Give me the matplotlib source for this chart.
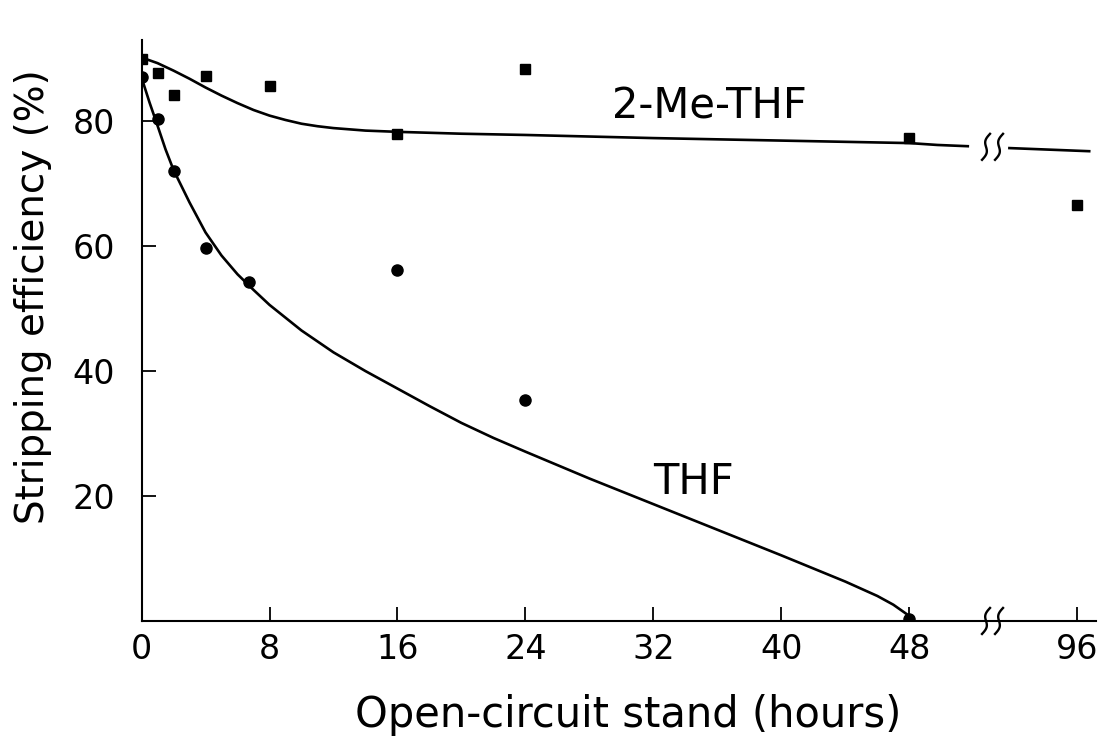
import numpy as np
import matplotlib
matplotlib.use('Agg')
import matplotlib.pyplot as plt

# measured points
me_x = [0, 1, 2, 4, 8, 16, 24, 48, 96]
me_y = [90, 87.7, 84.2, 87.2, 85.6, 78, 88.3, 77.3, 66.6]
thf_x = [0, 1, 2, 4, 6.7, 16, 24, 48]
thf_y = [87, 80.3, 72, 59.7, 54.2, 56.2, 35.4, 0.3]

# fitted curves
me_fit_x = [0, 1, 2, 3, 4, 5, 6, 7, 8, 9, 10, 11, 12, 14, 16, 20, 24, 32, 40, 48, 56, 64.7]
me_fit_y = [90.2, 89.3, 88.1, 86.8, 85.4, 84.1, 82.9, 81.8, 80.9, 80.2, 79.6, 79.2,
            78.9, 78.5, 78.3, 78.0, 77.8, 77.3, 76.9, 76.5, 76.2, 76.0]
me_fit2_x = [76.6, 99.4]
me_fit2_y = [75.7, 75.2]
thf_fit_x = [0, 0.5, 1, 1.5, 2, 3, 4, 5, 6, 7, 8, 10, 12, 14, 16, 18, 20, 22, 24,
             28, 32, 36, 40, 44, 46, 47, 48]
thf_fit_y = [87, 83, 79.3, 75.5, 72.2, 67, 62.2, 58.5, 55.5, 53, 50.6, 46.5, 43, 40,
             37.2, 34.4, 31.7, 29.3, 27.1, 22.8, 18.7, 14.6, 10.5, 6.3, 4.0, 2.6, 0.8]

xticks = [0, 8, 16, 24, 32, 40, 48, 96]
yticks = [20, 40, 60, 80]

# broken axis: everything past 48 h is squeezed
def fwd(x):
    x = np.asarray(x, dtype=float)
    return np.where(x <= 48, x, 48 + (x - 48) * 10.5 / 48)

def inv(x):
    x = np.asarray(x, dtype=float)
    return np.where(x <= 48, x, 48 + (x - 48) * 48 / 10.5)

plt.rcParams['font.family'] = ['DejaVu Sans']

fig = plt.figure(figsize=(11.04, 7.41), dpi=100)
ax = fig.add_axes([0.1282, 0.162, 0.865, 0.784])
ax.set_xscale('function', functions=(fwd, inv))
ax.set_xlim(0, float(inv(59.7)))
ax.set_ylim(0, 93)

lw = 1.9
ax.plot(me_fit_x, me_fit_y, color='black', lw=lw)
ax.plot(me_fit2_x, me_fit2_y, color='black', lw=lw)
ax.plot(thf_fit_x, thf_fit_y, color='black', lw=lw)
ax.plot(me_x, me_y, 's', color='black', ms=7.5)
ax.plot(thf_x, thf_y, 'o', color='black', ms=8)

for s in ['top', 'right']:
    ax.spines[s].set_visible(False)
for s in ['left', 'bottom']:
    ax.spines[s].set_linewidth(1.5)

ax.set_xticks(xticks)
ax.set_xticklabels([str(t) for t in xticks])
ax.set_yticks(yticks)
ax.set_yticklabels([str(t) for t in yticks])
ax.tick_params(axis='x', direction='in', length=10, width=1.3, pad=9, labelsize=24)
ax.tick_params(axis='y', direction='in', length=10, width=1.3, pad=19, labelsize=24)

ax.set_xlabel('Open-circuit stand (hours)', fontsize=30)
ax.set_ylabel('Stripping efficiency (%)', fontsize=28)
ax.xaxis.set_label_coords(0.51, -0.126)
ax.yaxis.set_label_coords(-0.094, 0.558)

ax.text(35.5, 82.4, '2-Me-THF', fontsize=30, ha='center', va='center')
ax.text(34.5, 22.2, 'THF', fontsize=30, ha='center', va='center')

# break marks, two small integral-like strokes
fig.canvas.draw()
def draw_break(x, y):
    t = np.linspace(-1, 1, 50)
    px, py = ax.transData.transform((x, y))
    for dx in (-6.5, 6.5):
        pts = np.column_stack([px + dx + 4 * t - 2.5 * np.sin(np.pi * t), py + 13 * t])
        xs, ys = ax.transData.inverted().transform(pts).T
        ax.plot(xs, ys, color='black', lw=1.7, clip_on=False)

xb = float(inv(53.2))
draw_break(xb, 75.9)
draw_break(xb, 0)

fig.savefig('out.png', dpi=100)
